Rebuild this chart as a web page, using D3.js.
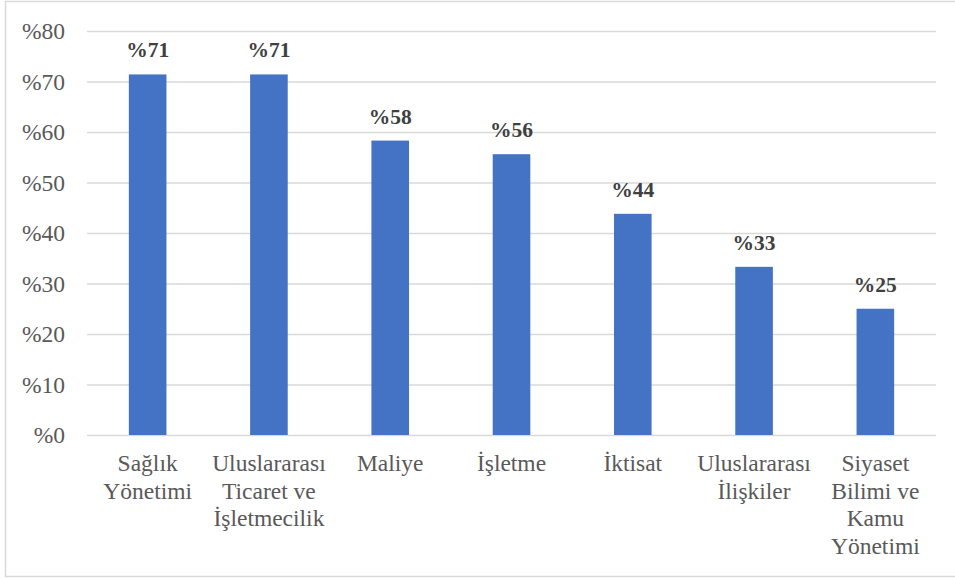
<!DOCTYPE html>
<html>
<head>
<meta charset="utf-8">
<script src="https://cdn.jsdelivr.net/npm/d3@7"></script>
<style>
  body { margin: 0; background: #fff; }
  svg { display: block; }
</style>
</head>
<body>
<div id="chart"></div>
<script>
var categories = [
	['Sağlık', 'Yönetimi'],
	['Uluslararası', 'Ticaret ve', 'İşletmecilik'],
	['Maliye'],
	['İşletme'],
	['İktisat'],
	['Uluslararası', 'İlişkiler'],
	['Siyaset', 'Bilimi ve', 'Kamu', 'Yönetimi']
];
var values = [71.4, 71.4, 58.3, 55.6, 43.8, 33.3, 25.0];
var valueLabels = ['%71', '%71', '%58', '%56', '%44', '%33', '%25'];
var yTicks = [0, 10, 20, 30, 40, 50, 60, 70, 80];

var width = 955,
	height = 579,
	margin = {top: 31, right: 19, bottom: 144, left: 87},
	font = 'Liberation Serif';

var svg = d3.select('#chart').append('svg')
	.attr('width', width)
	.attr('height', height)
	.attr('font-family', font);

// outer frame
svg.append('rect')
	.attr('x', 5.5)
	.attr('y', 1.5)
	.attr('width', width)
	.attr('height', 575)
	.attr('fill', 'none')
	.attr('stroke', '#d9d9d9')
	.attr('stroke-width', 1.5);

var x = d3.scaleBand()
	.domain(d3.range(categories.length))
	.range([margin.left, width - margin.right])
	.paddingInner(0.69)
	.paddingOuter(0.345);

var y = d3.scaleLinear()
	.domain([0, 80])
	.range([height - margin.bottom, margin.top]);

// gridlines + y labels
var yAxis = d3.axisLeft(y)
	.tickValues(yTicks)
	.tickSize(-(width - margin.left - margin.right))
	.tickPadding(22)
	.tickFormat(function(d){ return '%' + d; });

var gy = svg.append('g')
	.attr('transform', 'translate(' + margin.left + ',0)')
	.call(yAxis)
	.attr('font-family', font)
	.attr('font-size', 23.5);
gy.select('.domain').remove();
gy.selectAll('line')
	.attr('stroke', '#d9d9d9')
	.attr('stroke-width', 1.5);
gy.selectAll('text')
	.attr('fill', '#595959');

// bars
svg.selectAll('.bar')
	.data(values)
	.enter()
	.append('rect')
	.attr('class', 'bar')
	.attr('x', function(d, i){ return x(i); })
	.attr('y', function(d){ return y(d); })
	.attr('width', x.bandwidth())
	.attr('height', function(d){ return y(0) - y(d); })
	.attr('fill', '#4472c4');

// value labels
svg.selectAll('.val')
	.data(values)
	.enter()
	.append('text')
	.attr('class', 'val')
	.attr('x', function(d, i){ return x(i) + x.bandwidth() / 2; })
	.attr('y', function(d){ return y(d) - 17; })
	.attr('text-anchor', 'middle')
	.attr('fill', '#404040')
	.attr('font-weight', 'bold')
	.attr('font-size', 21.5)
	.text(function(d, i){ return valueLabels[i]; });

// category labels
var catText = svg.selectAll('.cat')
	.data(categories)
	.enter()
	.append('text')
	.attr('class', 'cat')
	.attr('text-anchor', 'middle')
	.attr('fill', '#595959')
	.attr('font-size', 23.5);

catText.selectAll('tspan')
	.data(function(d, i){ return d.map(function(line){ return {line: line, i: i}; }); })
	.enter()
	.append('tspan')
	.attr('x', function(d){ return x(d.i) + x.bandwidth() / 2; })
	.attr('y', function(d, j){ return y(0) + 36 + j * 27.5; })
	.text(function(d){ return d.line; });
</script>
</body>
</html>
